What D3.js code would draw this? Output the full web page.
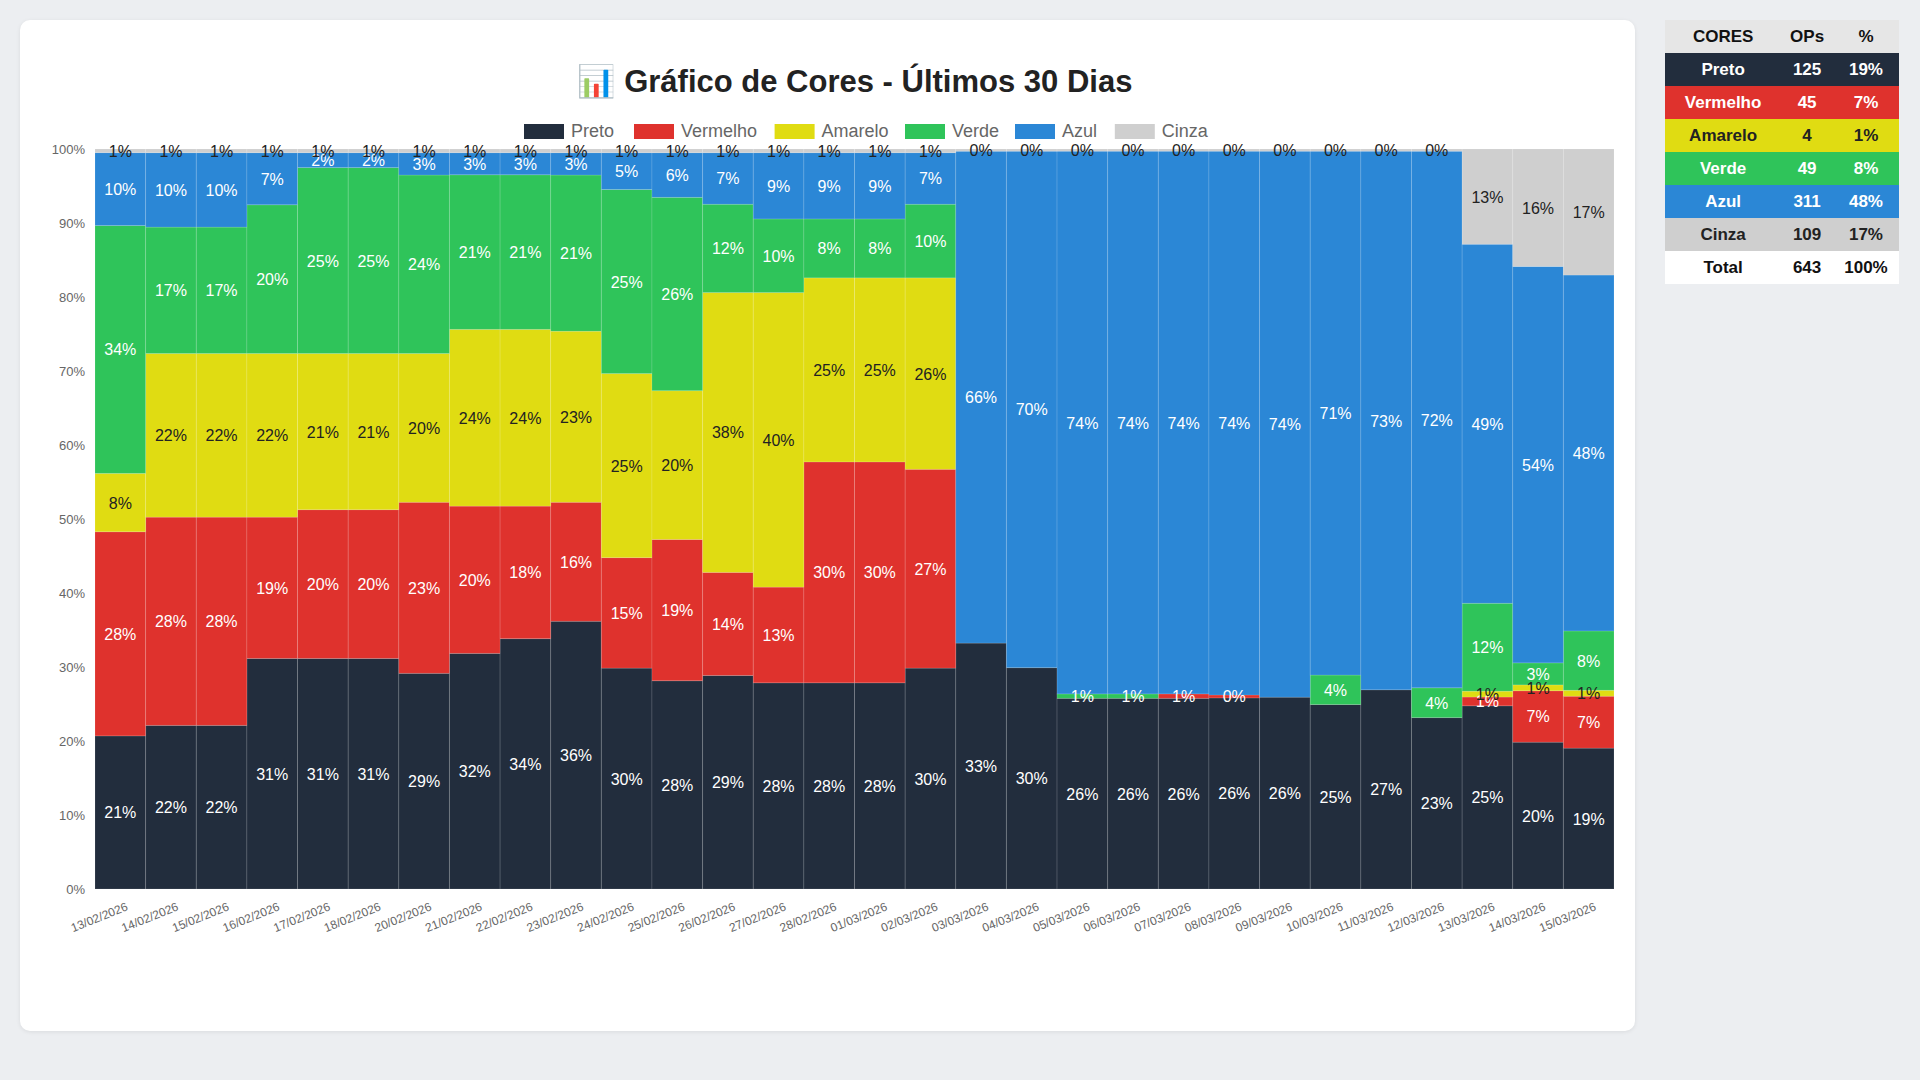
<!DOCTYPE html>
<html><head><meta charset="utf-8">
<script src="https://cdn.jsdelivr.net/npm/d3@7"></script>
<style>
body{margin:0;background:#eceef1;font-family:"Liberation Sans",Arial,sans-serif;}
#card{position:absolute;left:20px;top:20px;width:1615px;height:1011px;background:#fff;border-radius:10px;box-shadow:0 1px 4px rgba(0,0,0,0.08);}
#tbl{position:absolute;left:1665px;top:20px;width:234px;border-collapse:collapse;font-size:17px;font-weight:bold;}
#tbl td,#tbl th{height:33px;text-align:center;padding:0;}
</style></head>
<body>
<div id="card"><svg id="chart" width="1615" height="1011"></svg></div>
<table id="tbl"></table>
<script>
var dates = ["13/02/2026","14/02/2026","15/02/2026","16/02/2026","17/02/2026","18/02/2026","20/02/2026","21/02/2026","22/02/2026","23/02/2026","24/02/2026","25/02/2026","26/02/2026","27/02/2026","28/02/2026","01/03/2026","02/03/2026","03/03/2026","04/03/2026","05/03/2026","06/03/2026","07/03/2026","08/03/2026","09/03/2026","10/03/2026","11/03/2026","12/03/2026","13/03/2026","14/03/2026","15/03/2026"];
var series = ["Preto","Vermelho","Amarelo","Verde","Azul","Cinza"];
var colors = ["#222d3d","#df322d","#e0dc12","#2fc45a","#2b87d6","#cfcfcf"];
var textColors = ["#fff","#fff","#222","#fff","#fff","#222"];

var preto    = [21,22,22,31,31,31,29,32,34,36,30,28,29,28,28,28,30,33,30,26,26,26,26,26,25,27,23,25,20,19];
var vermelho = [28,28,28,19,20,20,23,20,18,16,15,19,14,13,30,30,27,0,0,0,0,0.6,0.4,0,0,0,0,1.2,7,7];
var amarelo  = [8,22,22,22,21,21,20,24,24,23,25,20,38,40,25,25,26,0,0,0,0,0,0,0,0,0,0,0.8,0.8,0.8];
var verde    = [34,17,17,20,25,25,24,21,21,21,25,26,12,10,8,8,10,0,0,0.6,0.6,0,0,0,4,0,4,12,3,8];
var azul     = [10,10,10,7,2,2,3,3,3,3,5,6,7,9,9,9,7,66,70,74,74,74,74,74,71,73,72,49,54,48];
var cinza    = [0.5,0.5,0.5,0.5,0.5,0.5,0.5,0.5,0.5,0.5,0.5,0.5,0.5,0.5,0.5,0.5,0.5,0.3,0.3,0.3,0.3,0.3,0.3,0.3,0.3,0.3,0.3,13,16,17];

var tblNames = ["Preto","Vermelho","Amarelo","Verde","Azul","Cinza"];
var tblOps = [125,45,4,49,311,109];
var tblPct = ["19%","7%","1%","8%","48%","17%"];

var cols = [preto,vermelho,amarelo,verde,azul,cinza];
var data = dates.map(function(d,i){ var o={date:d}; series.forEach(function(s,j){ o[s]=cols[j][i]; }); return o; });

var svg = d3.select('#chart');
var m = {l:75, t:129, w:1519, h:740};
var g = svg.append('g').attr('transform','translate('+m.l+','+m.t+')');

svg.append('text').attr('x',m.l+m.w/2).attr('y',72).attr('text-anchor','middle')
	.attr('font-size',31).attr('font-weight','bold').attr('fill','#222').text('📊 Gráfico de Cores - Últimos 30 Dias');

// legend
var lx = 462 + 42;
series.forEach(function(s,i){
	var lg = svg.append('g').attr('transform','translate('+lx+',104)');
	lg.append('rect').attr('width',40).attr('height',15).attr('fill',colors[i]);
	lg.append('text').attr('x',47).attr('y',13).attr('font-size',18).attr('fill','#666').text(s);
	lx += 47 + s.length*10.2 + 12;
});

var stack = d3.stack().keys(series).offset(d3.stackOffsetExpand);
var layers = stack(data);

var x = d3.scaleBand().domain(dates).range([0,m.w]).padding(0);
var y = d3.scaleLinear().domain([0,1]).range([m.h,0]);

layers.forEach(function(layer,j){
	var lg = g.append('g');
	lg.selectAll('rect').data(layer).join('rect')
		.attr('x',function(d){return x(d.data.date);})
		.attr('width',x.bandwidth())
		.attr('y',function(d){return y(d[1]);})
		.attr('height',function(d){return y(d[0])-y(d[1]);})
		.attr('fill',colors[j])
		.attr('stroke','rgba(255,255,255,0.12)').attr('stroke-width',1);
});
layers.forEach(function(layer,j){
	g.append('g').selectAll('text').data(layer.filter(function(d){return d[1]-d[0]>0;})).join('text')
		.attr('x',function(d){return x(d.data.date)+x.bandwidth()/2;})
		.attr('y',function(d){return y((d[0]+d[1])/2)+6;})
		.attr('text-anchor','middle').attr('font-size',16)
		.attr('fill',function(d){ return (d[1]-d[0]<0.012 && j==5) ? '#222' : textColors[j]; })
		.text(function(d){return Math.round(d.data[series[j]])+'%';});
});

var ya = g.append('g').call(d3.axisLeft(y).ticks(10).tickFormat(d3.format('.0%')).tickSize(0).tickPadding(10));
ya.select('.domain').remove();
ya.selectAll('text').attr('font-size',13).attr('fill','#666');

var xa = g.append('g').attr('transform','translate(0,'+m.h+')').call(d3.axisBottom(x).tickSize(0));
xa.select('.domain').remove();
xa.selectAll('text').attr('font-size',12).attr('fill','#666')
	.attr('text-anchor','end').attr('transform','translate(4,10) rotate(-22)');

// table
var tbl = d3.select('#tbl');
var hr = tbl.append('tr').style('background','#e6e6e6').style('color','#111');
['CORES','OPs','%'].forEach(function(h){ hr.append('th').text(h); });
tblNames.forEach(function(n,i){
	var tr = tbl.append('tr').style('background',colors[i]).style('color',textColors[i]);
	tr.append('td').text(n);
	tr.append('td').text(tblOps[i]);
	tr.append('td').text(tblPct[i]);
});
var tt = tbl.append('tr').style('background','#fff').style('color','#111');
tt.append('td').text('Total');
tt.append('td').text(d3.sum(tblOps));
tt.append('td').text('100%');
</script>
</body></html>
